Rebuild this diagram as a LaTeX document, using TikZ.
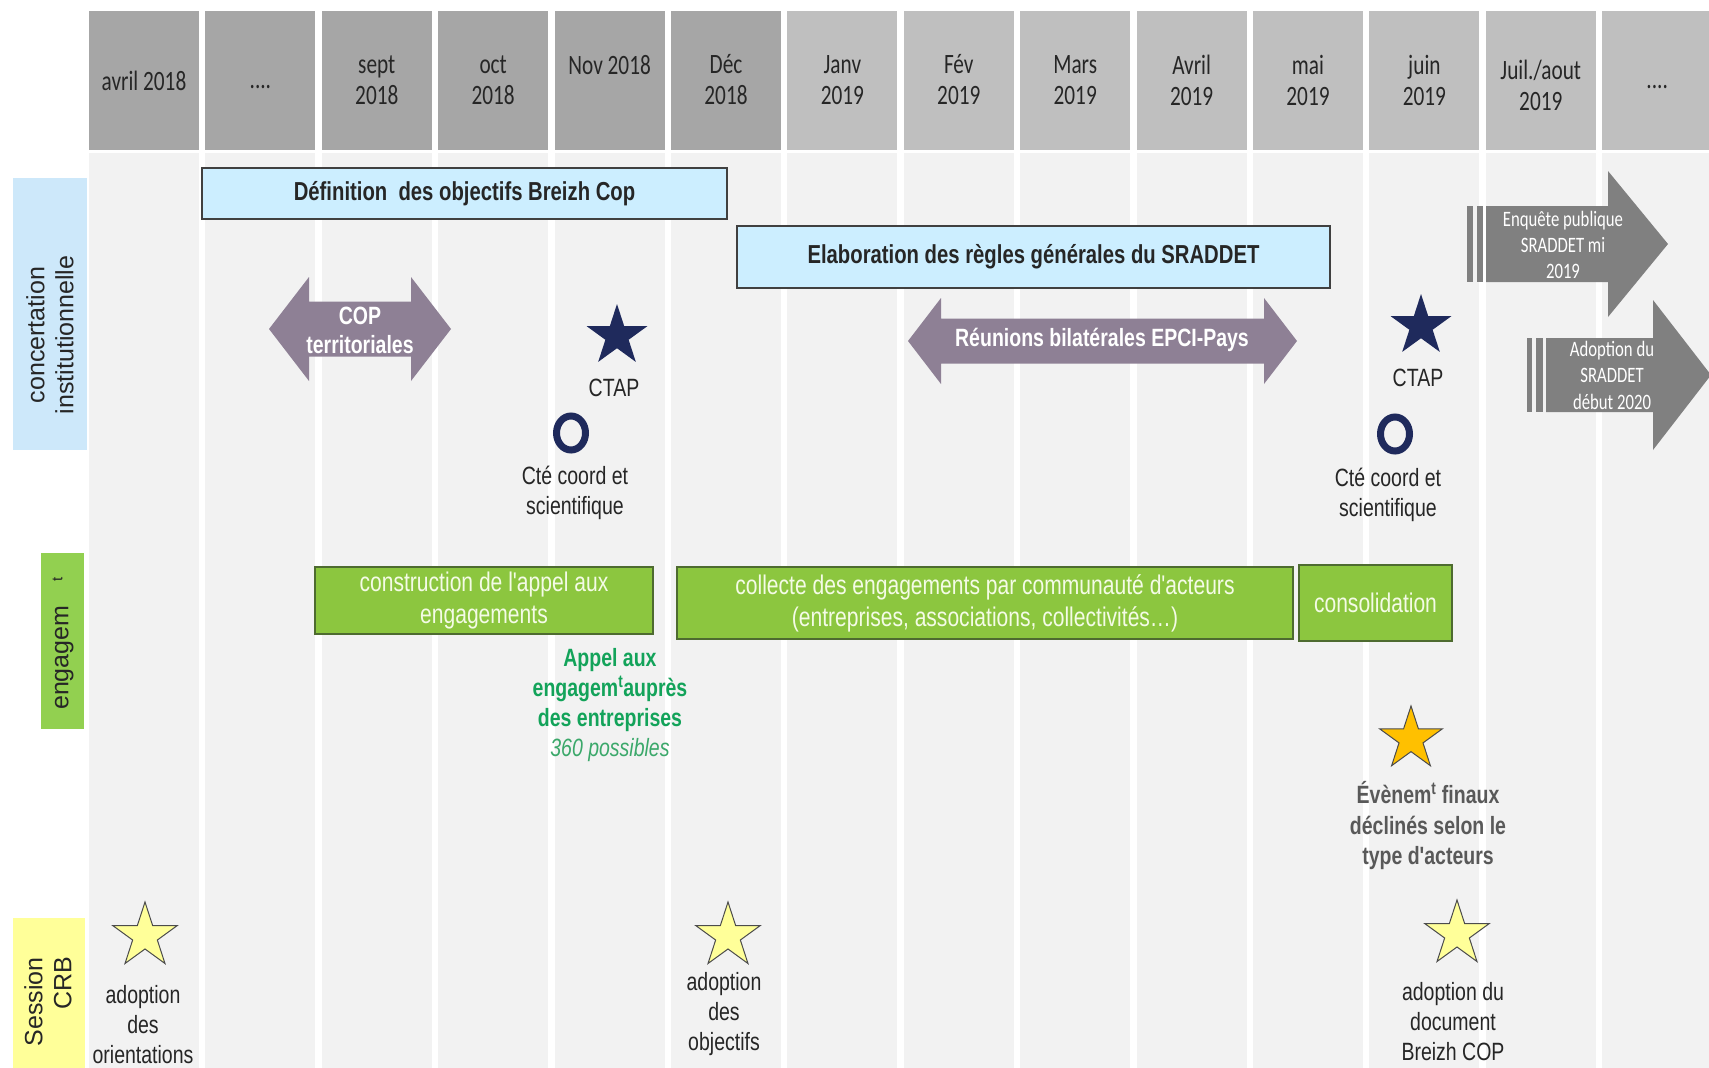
\documentclass[tikz,border=0pt]{standalone}
\usepackage{fontspec}
\usetikzlibrary{shapes.geometric}
\setmainfont{Liberation Sans}
\newfontfamily\narrow[FakeStretch=0.78]{Liberation Sans}
\newfontfamily\calib[FakeStretch=0.76]{Carlito}
\newcommand{\fsz}[2]{\fontsize{#1}{#2}\selectfont}

\tikzset{
  mese/.style={font=\calib\fsz{28}{31}, text=black!85, align=center, inner sep=0},
  lab/.style={rotate=90, inner sep=0, font=\fsz{25}{29}, text=black!85},
  barra/.style={draw=black!75, line width=1.5pt, fill=barBlue, inner sep=0,
    font=\narrow\bfseries\fsz{26}{30}, text=black!85},
  scatola/.style={draw=verdeBordo, line width=1.5pt, fill=verdeBox, inner sep=0,
    align=center, font=\narrow\fsz{27}{32}, text=verdeChiaro},
  freccia/.style={font=\narrow\bfseries\fsz{25}{29}, text=white, align=center, inner sep=0},
  stella/.style={star, star points=5, star point ratio=2.618, inner sep=0},
  anello/.style={ellipse, draw=navy, line width=7pt, minimum width=29, minimum height=34, inner sep=0},
  testo/.style={font=\narrow\fsz{25}{30}, text=black!85, align=center, inner sep=0}
}

\begin{document}
\begin{tikzpicture}[x=1pt, y=-1pt]

% Colori
\definecolor{hdrA}{HTML}{A6A6A6}
\definecolor{hdrB}{HTML}{BFBFBF}
\definecolor{colStripe}{HTML}{F2F2F2}
\definecolor{labBlue}{HTML}{CDE8FA}
\definecolor{barBlue}{HTML}{CCEEFF}
\definecolor{verdeBox}{HTML}{8CC63F}
\definecolor{verdeLab}{HTML}{92D050}
\definecolor{verdeBordo}{HTML}{4E6B30}
\definecolor{verdeChiaro}{HTML}{F4FBE6}
\definecolor{verdeTxt}{HTML}{13A35A}
\definecolor{verdeIt}{HTML}{3BA86A}
\definecolor{navy}{HTML}{1F2A5C}
\definecolor{mauve}{HTML}{8E8095}
\definecolor{grigioF}{HTML}{808080}
\definecolor{grigioTxt}{HTML}{595959}
\definecolor{oro}{HTML}{FFC000}
\definecolor{giallo}{HTML}{FFFF99}

% Sfondo
\useasboundingbox (0,0) rectangle (1709,1068);
\fill[white] (0,0) rectangle (1709,1068);

% Colonne dei mesi
\foreach \i/\testo/\ty in {1/{avril 2018}/81, 2/{....}/87, 3/{sept\\2018}/80,
    4/{oct\\2018}/80, 5/{Nov 2018}/65, 6/{Déc\\2018}/80, 7/{Janv\\2019}/80,
    8/{Fév\\2019}/80, 9/{Mars\\2019}/80, 10/{Avril\\2019}/80, 11/{mai\\2019}/80,
    12/{juin\\2019}/80, 13/{Juil./aout\\2019}/85, 14/{....}/87}{
  \pgfmathsetmacro\xc{144+116.4*(\i-1)}
  \ifnum\i<7 \def\colh{hdrA}\else\def\colh{hdrB}\fi
  \fill[colStripe] (\xc-55,153) rectangle (\xc+55,1068);
  \fill[\colh] (\xc-55,11) rectangle (\xc+55,150);
  \node[mese] (h\i) at (\xc,\ty) {\testo};
}

% Etichette a sinistra
\fill[labBlue] (13,178) rectangle (87,450);
\node[lab, align=center] (lconc) at (50,335) {concertation\\institutionnelle};
\fill[verdeLab] (41,553) rectangle (84,729);
\node[lab, anchor=west] (leng) at (63,710) {engagem\hspace{24pt}\raisebox{6pt}{\fsz{15}{15}t}};
\fill[giallo] (13,918) rectangle (85,1068);
\node[lab, align=right, anchor=east] (lcrb) at (48,957) {Session\\CRB};

% Barre blu
\node[barra, minimum width=525, minimum height=51] (bdef) at (464.5,193.5)
  {Définition\ \ des objectifs Breizh Cop};
\node[barra, minimum width=593, minimum height=62] (belab) at (1033.5,257)
  {Elaboration des règles générales du SRADDET};

% Frecce doppie
\fill[mauve] (269,329) -- (309,277) -- (309,301.5) -- (411,301.5) -- (411,277)
  -- (451,329) -- (411,381) -- (411,356.5) -- (309,356.5) -- (309,381) -- cycle;
\node[freccia] (tcop) at (360,330) {COP\\territoriales};
\fill[mauve] (908,341) -- (941,298) -- (941,318.5) -- (1264,318.5) -- (1264,298)
  -- (1297,341) -- (1264,384) -- (1264,363.5) -- (941,363.5) -- (941,384) -- cycle;
\node[freccia] (treun) at (1102,340) {Réunions bilatérales EPCI-Pays};

% Frecce grigie a destra
\fill[grigioF] (1467,206) rectangle (1473,282);
\fill[grigioF] (1477,206) rectangle (1483,282);
\fill[grigioF] (1486,206) -- (1608,206) -- (1608,171) -- (1668,244) -- (1608,317)
  -- (1608,282) -- (1486,282) -- cycle;
\node[mese, text=white, font=\calib\fsz{22}{26}] (tenq) at (1563,245)
  {Enquête publique\\SRADDET mi\\2019};
\fill[grigioF] (1527,338) rectangle (1532,412);
\fill[grigioF] (1536,338) rectangle (1543,412);
\fill[grigioF] (1546,338) -- (1653,338) -- (1653,300) -- (1711,375) -- (1653,450)
  -- (1653,412) -- (1546,412) -- cycle;
\node[mese, text=white, font=\calib\fsz{22}{26.5}] (tadop) at (1612,375)
  {Adoption du\\SRADDET\\début 2020};

% CTAP e comitati
\node[stella, fill=navy, minimum size=64] (s1) at (617,336) {};
\node[testo] (ctap1) at (614,388) {CTAP};
\node[anello] (o1) at (571,433) {};
\node[testo] (cte1) at (575,493) {Cté coord et\\scientifique};
\node[stella, fill=navy, minimum size=64] (s2) at (1421,326) {};
\node[testo] (ctap2) at (1418,378) {CTAP};
\node[anello] (o2) at (1395,434) {};
\node[testo] (cte2) at (1388,495) {Cté coord et\\scientifique};

% Riquadri verdi
\node[scatola, minimum width=338, minimum height=67] (gcons) at (484,600.5)
  {construction de l'appel aux\\engagements};
\node[scatola, minimum width=616, minimum height=72] (gcoll) at (985,603)
  {collecte des engagements par communauté d'acteurs\\(entreprises, associations, collectivités…)};
\node[scatola, minimum width=153, minimum height=76] (gfin) at (1375.5,603)
  {consolidation};

% Appel aux engagements
\node[testo, text=verdeTxt] (appel) at (610,705)
  {\bfseries Appel aux\\\bfseries engagem\textsuperscript{t}auprès\\\bfseries des entreprises\\
   \itshape\color{verdeIt}360 possibles};

% Evenements finaux
\node[stella, fill=oro, draw=black!70, line width=1pt, minimum size=66] (sor) at (1411,739) {};
\node[testo, text=grigioTxt, font=\narrow\bfseries\fsz{25}{30.5}] (tev) at (1428,826)
  {Évènem\textsuperscript{t} finaux\\déclinés selon le\\type d'acteurs};

% Sessioni CRB
\node[stella, fill=giallo, draw=black!70, line width=1pt, minimum size=68] (sy1) at (145,936) {};
\node[testo] (ty1) at (143,1025) {adoption\\des\\orientations};
\node[stella, fill=giallo, draw=black!70, line width=1pt, minimum size=68] (sy2) at (728,936) {};
\node[testo] (ty2) at (724,1014) {adoption\\des\\objectifs};
\node[stella, fill=giallo, draw=black!70, line width=1pt, minimum size=68] (sy3) at (1457,934) {};
\node[testo] (ty3) at (1453,1022) {adoption du\\document\\Breizh COP};

\end{tikzpicture}
\end{document}
